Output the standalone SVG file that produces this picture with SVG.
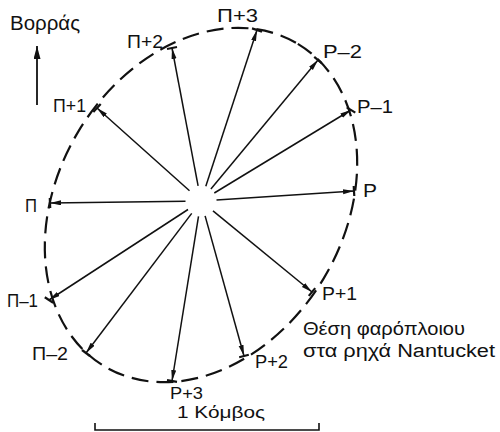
<svg xmlns="http://www.w3.org/2000/svg" width="500" height="432" viewBox="0 0 500 432">
<style>
text{font-family:"Liberation Sans","DejaVu Sans",sans-serif;font-size:18px;fill:#111}
.big{font-size:20px}
.cap{font-size:18px}
.sm{font-size:16px}
.ray{stroke:#111;stroke-width:1.5;fill:none;marker-end:url(#ah)}
.tick{stroke:#111;stroke-width:2.2;fill:none}
.orbit{stroke:#111;stroke-width:2.2;fill:none;stroke-dasharray:17 8}
</style>
<defs>
<marker id="ah" markerUnits="userSpaceOnUse" markerWidth="12" markerHeight="6" refX="11" refY="2.5" orient="auto">
<path d="M0,0 L11,2.5 L0,5 z" fill="#111"/>
</marker>
<marker id="ahN" markerUnits="userSpaceOnUse" markerWidth="14" markerHeight="8" refX="13" refY="3.5" orient="auto">
<path d="M0,0 L13,3.5 L0,7 z" fill="#111"/>
</marker>
</defs>
<g id="north">
<line x1="37" y1="105" x2="37" y2="46" stroke="#111" stroke-width="1.8" marker-end="url(#ahN)"/>
<text class="big" x="10" y="30" textLength="70" lengthAdjust="spacingAndGlyphs">Βορράς</text>
</g>
<g id="orbit">
<ellipse class="orbit" cx="201" cy="205" rx="188" ry="143" transform="rotate(-59 201 205)"/>
</g>
<g id="connectors">
<line class="ray" x1="205.8" y1="186.3" x2="257" y2="30"/>
<line class="ray" x1="198.1" y1="185.8" x2="172" y2="48"/>
<line class="ray" x1="189.5" y1="190.7" x2="97" y2="108"/>
<line class="ray" x1="185.5" y1="201.2" x2="50" y2="203"/>
<line class="ray" x1="188" y1="209.5" x2="49" y2="300"/>
<line class="ray" x1="191.7" y1="213.4" x2="86" y2="353"/>
<line class="ray" x1="198.5" y1="216.3" x2="172" y2="381"/>
<line class="ray" x1="205.1" y1="215.9" x2="244" y2="356"/>
<line class="ray" x1="213" y1="210.8" x2="312" y2="292"/>
<line class="ray" x1="216.5" y1="200" x2="354" y2="191"/>
<line class="ray" x1="214.3" y1="193" x2="351" y2="110"/>
<line class="ray" x1="210.9" y1="189.1" x2="318" y2="60"/>
</g>
<g id="ticks">
<line class="tick" x1="252" y1="28.4" x2="262" y2="31.6"/>
<line class="tick" x1="167" y1="49" x2="177" y2="47"/>
<line class="tick" x1="93.3" y1="112" x2="100.7" y2="104"/>
<line class="tick" x1="49.8" y1="198" x2="50.2" y2="208"/>
<line class="tick" x1="44.8" y1="297.3" x2="53.2" y2="302.7"/>
<line class="tick" x1="82" y1="350" x2="90" y2="356"/>
<line class="tick" x1="167" y1="380.2" x2="177" y2="381.8"/>
<line class="tick" x1="239.2" y1="357.3" x2="248.8" y2="354.7"/>
<line class="tick" x1="308.8" y1="295.9" x2="315.2" y2="288.1"/>
<line class="tick" x1="353.7" y1="186" x2="354.3" y2="196"/>
<line class="tick" x1="346.7" y1="107.4" x2="355.3" y2="112.6"/>
<line class="tick" x1="314.2" y1="56.8" x2="321.8" y2="63.2"/>
</g>
<g id="labels">
<text x="217" y="22" textLength="41" lengthAdjust="spacingAndGlyphs">Π+3</text>
<text x="127" y="48" textLength="36" lengthAdjust="spacingAndGlyphs">Π+2</text>
<text x="53" y="112" textLength="33" lengthAdjust="spacingAndGlyphs">Π+1</text>
<text x="25" y="212" textLength="12" lengthAdjust="spacingAndGlyphs">Π</text>
<text x="7" y="307" textLength="31" lengthAdjust="spacingAndGlyphs">Π–1</text>
<text x="32" y="360" textLength="36" lengthAdjust="spacingAndGlyphs">Π–2</text>
<text class="sm" x="170" y="399" textLength="33" lengthAdjust="spacingAndGlyphs">P+3</text>
<text x="255" y="368" textLength="33" lengthAdjust="spacingAndGlyphs">P+2</text>
<text x="322" y="300" textLength="35" lengthAdjust="spacingAndGlyphs">P+1</text>
<text x="363" y="197" textLength="14" lengthAdjust="spacingAndGlyphs">P</text>
<text x="357" y="113" textLength="36" lengthAdjust="spacingAndGlyphs">P–1</text>
<text x="323" y="58" textLength="39" lengthAdjust="spacingAndGlyphs">P–2</text>
</g>
<g id="caption">
<text class="cap" x="303" y="335" textLength="162" lengthAdjust="spacingAndGlyphs">Θέση φαρόπλοιου</text>
<text class="cap" x="303" y="357" textLength="192" lengthAdjust="spacingAndGlyphs">στα ρηχά Nantucket</text>
</g>
<g id="scale">
<path d="M95,423 V430 H319 V423" stroke="#111" stroke-width="1.6" fill="none"/>
<text class="sm" x="177" y="418" textLength="88" lengthAdjust="spacingAndGlyphs">1 Κόμβος</text>
</g>
</svg>
